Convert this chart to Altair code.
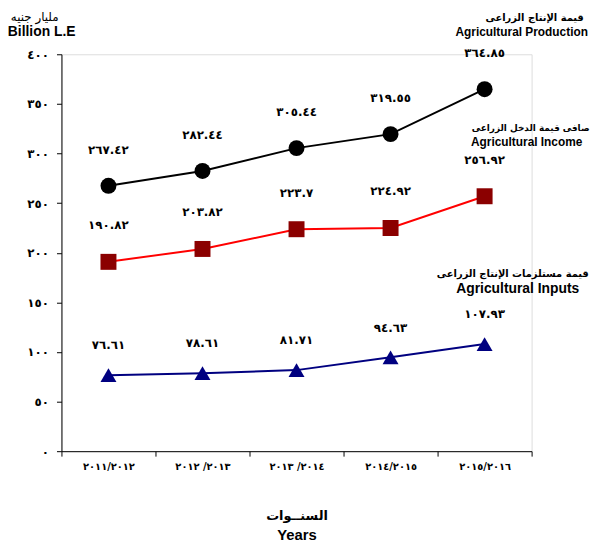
import altair as alt
import pandas as pd

years = ["٢٠١١/٢٠١٢", "٢٠١٢\u200e /٢٠١٣", "٢٠١٣\u200e /٢٠١٤", "٢٠١٤/٢٠١٥", "٢٠١٥/٢٠١٦"]
production = [267.42, 282.44, 305.44, 319.55, 364.85]
production_labels = ["٢٦٧.٤٢", "٢٨٢.٤٤", "٣٠٥.٤٤", "٣١٩.٥٥", "٣٦٤.٨٥"]
income = [190.82, 203.82, 223.7, 224.92, 256.92]
income_labels = ["١٩٠.٨٢", "٢٠٣.٨٢", "٢٢٣.٧", "٢٢٤.٩٢", "٢٥٦.٩٢"]
inputs = [76.61, 78.61, 81.71, 94.63, 107.93]
inputs_labels = ["٧٦.٦١", "٧٨.٦١", "٨١.٧١", "٩٤.٦٣", "١٠٧.٩٣"]
y_ticks = [0, 50, 100, 150, 200, 250, 300, 350, 400]
y_tick_labels = ["٠", "٥٠", "١٠٠", "١٥٠", "٢٠٠", "٢٥٠", "٣٠٠", "٣٥٠", "٤٠٠"]

AR = "DejaVu Sans"
EN = "Liberation Sans"

label_expr = " : ".join(
    f"datum.value == {v} ? '{l}'" for v, l in zip(y_ticks, y_tick_labels)
) + " : ''"

x_enc = alt.X(
    "year:N", sort=years, title=None,
    scale=alt.Scale(paddingInner=0, paddingOuter=0),
    axis=alt.Axis(labelAngle=0, labelFont=AR, labelFontSize=10, labelFontWeight="bold",
                  labelColor="black", tickBand="extent", tickSize=5, tickColor="black",
                  domainColor="black", labelPadding=6),
)
y_enc = alt.Y(
    "value:Q", title=None,
    scale=alt.Scale(domain=[0, 400], nice=False),
    axis=alt.Axis(values=y_ticks, labelExpr=label_expr, labelFont=AR, labelFontSize=12,
                  labelFontWeight="bold", labelColor="black", grid=False, tickSize=5,
                  tickColor="black", domainColor="black", labelPadding=8),
)


def series(vals, labels, line_color, pt_color, shape, dy):
    df = pd.DataFrame({"year": years, "value": vals, "label": labels})
    base = alt.Chart(df)
    line = base.mark_line(color=line_color, strokeWidth=2).encode(x=x_enc, y=y_enc)
    pts = base.mark_point(shape=shape, filled=True, opacity=1, color=pt_color, size=260).encode(
        x=x_enc, y=y_enc)
    txt = base.mark_text(dy=dy, font=AR, fontSize=12, fontWeight="bold", color="black").encode(
        x=x_enc, y=y_enc, text="label:N")
    return line + pts + txt


s1 = series(production, production_labels, "black", "black", "circle", -36)
s2 = series(income, income_labels, "#FF0000", "#8B0000", "square", -37)
s3 = series(inputs, inputs_labels, "#000080", "#000080", "triangle-up", -30)

ann_text = ["قيمة الإنتاج الزراعى", "Agricultural Production",
            "صافى قيمة الدخل الزراعى", "Agricultural Income",
            "قيمة مستلزمات الإنتاج الزراعى", "Agricultural Inputs",
            "مليار جنيه", "Billion L.E", "السنــوات", "Years"]


def ann(text, px, py, font, size, weight="bold"):
    return alt.Chart(pd.DataFrame({"t": [text]})).mark_text(
        font=font, fontSize=size, fontWeight=weight, color="black", baseline="middle",
        align="center").encode(x=alt.value(px), y=alt.value(py), text="t:N")


anns = [
    ann(ann_text[0], 478, -37, AR, 10),
    ann(ann_text[1], 465, -22, EN, 12),
    ann(ann_text[2], 474, 75, AR, 9),
    ann(ann_text[3], 470, 89, EN, 12),
    ann(ann_text[4], 456, 222, AR, 10),
    ann(ann_text[5], 461, 237, EN, 14),
    ann(ann_text[6], -27, -38, AR, 12, "normal"),
    ann(ann_text[7], -20, -22, EN, 14),
    ann(ann_text[8], 238, 467, AR, 13, "bold"),
    ann(ann_text[9], 238, 486, EN, 15),
]

chart = alt.layer(s1, s2, s3, *anns).properties(
    width=475, height=401,
    autosize=alt.AutoSizeParams(type="none"),
    padding={"left": 54, "top": 44, "right": 60, "bottom": 90},
).configure_view(stroke=None).configure(background="white")

chart.save("out.html", embed_options={"renderer": "svg", "actions": False})
